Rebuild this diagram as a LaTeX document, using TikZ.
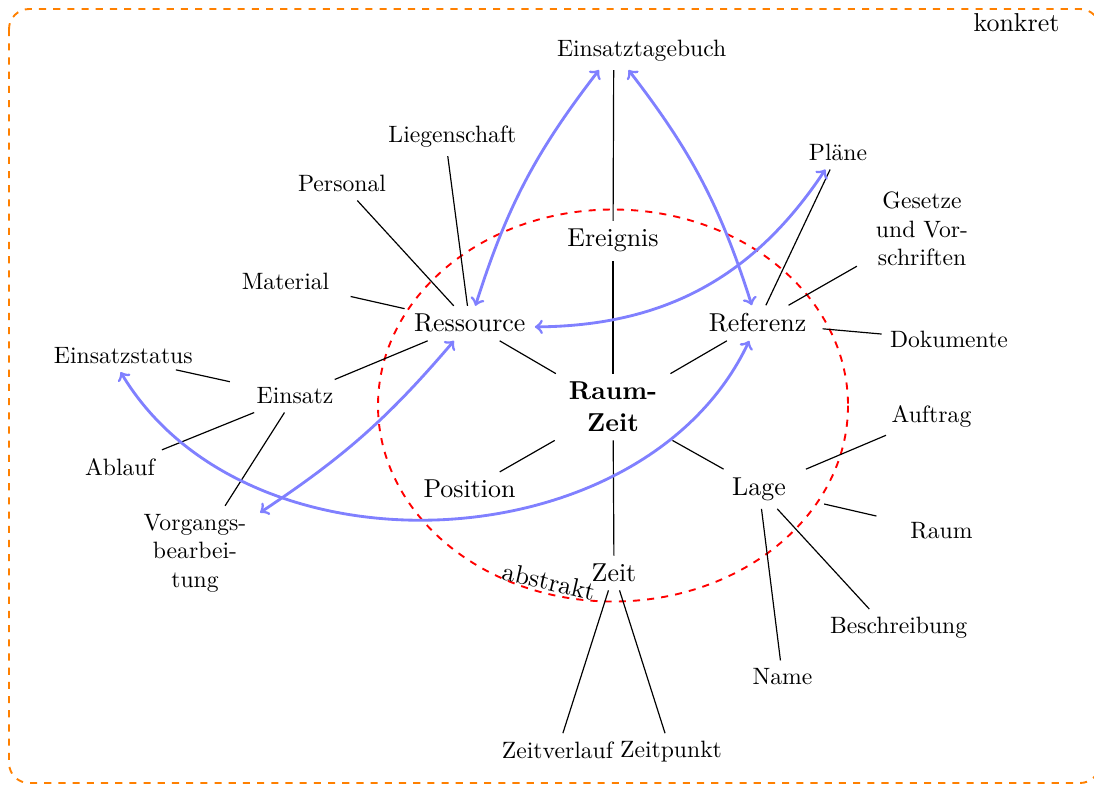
\documentclass[tikz,border=0pt]{standalone}
\begin{document}
\begin{tikzpicture}[
  x=0.42283pt, y=-0.42283pt,
  concept/.style={text width=48pt, align=center,
    font=\fontsize{10.95pt}{13.6pt}\selectfont},
  root/.style={concept, font=\fontsize{10.95pt}{13.6pt}\selectfont\bfseries},
  leaf/.style={text width=48pt, align=center,
    font=\fontsize{10pt}{12pt}\selectfont},
  tie/.style={line width=0.5pt},
  relation/.style={<->, draw=blue!50, very thick},
  region label/.style={font=\fontsize{10.95pt}{13.6pt}\selectfont, inner sep=0pt},
]
\useasboundingbox (0,0) rectangle (1094,784);

% outer frame: the concrete level
\draw[orange, thick, dashed, rounded corners=8.5pt] (9,9) rectangle (1100,783);
\node[region label, anchor=base] (konkret) at (1016.5,31.5) {konkret};

% inner ellipse: the abstract level
\draw[red, thick, dashed] (613,405.5) ellipse [x radius=235, y radius=196];
\node[region label, anchor=base, rotate=-13] (abstrakt) at (547,590) {abstrakt};

% centre and first level
\node[root] (rz) at (613,407) {Raum-\\Zeit};
\node[concept] (ereignis) at (613,240.7) {Ereignis};
\node[concept] (ressource) at (469.75,323.3) {\hbox{Ressource}};
\node[concept] (referenz) at (757.5,323) {Referenz};
\node[concept] (position) at (469.5,489.2) {Position};
\node[concept] (lage) at (759,489) {Lage};
\node[concept] (zeit) at (614,573) {Zeit};

% second level
\node[leaf] (tagebuch) at (613.75,51) {\hbox{Einsatztagebuch}};
\node[leaf] (liegenschaft) at (445.25,137) {\hbox{Liegenschaft}};
\node[leaf] (personal) at (342,183.8) {Personal};
\node[leaf] (material) at (285.5,281.8) {Material};
\node[leaf] (einsatz) at (295,396) {Einsatz};
\node[leaf] (einsatzstatus) at (110.75,355.5) {\hbox{Einsatzstatus}};
\node[leaf] (ablauf) at (120,466.8) {Ablauf};
\node[leaf] (vorgang) at (195,553) {Vorgangs-\\bearbei-\\tung};
\node[leaf] (plaene) at (838,152.8) {Pläne};
\node[leaf] (gesetze) at (922,229) {Gesetze\\und Vor-\\schriften};
\node[leaf] (dokumente) at (946.75,339.8) {\hbox{Dokumente}};
\node[leaf] (auftrag) at (931.5,416) {Auftrag};
\node[leaf] (raum) at (941.5,531) {Raum};
\node[leaf] (beschreibung) at (886.75,628) {\hbox{Beschreibung}};
\node[leaf] (name) at (782.5,677) {Name};
\node[leaf] (zeitverlauf) at (557.5,750) {Zeitverlauf};
\node[leaf] (zeitpunkt) at (671,752) {Zeitpunkt};

% tree connections
\draw[tie] (rz) edge (ereignis) edge (ressource) edge (referenz)
               edge (position) edge (lage) edge (zeit);
\draw[tie] (ereignis) -- (tagebuch);
\draw[tie] (ressource) edge (liegenschaft) edge (personal)
                       edge (material) edge (einsatz);
\draw[tie] (einsatz) edge (einsatzstatus) edge (ablauf) edge (vorgang);
\draw[tie] (referenz) edge (plaene) edge (gesetze) edge (dokumente);
\draw[tie] (lage) edge (auftrag) edge (raum) edge (beschreibung) edge (name);
\draw[tie] (zeit) edge (zeitverlauf) edge (zeitpunkt);

% cross relations
\draw[relation] (ressource) to[bend left=10] (tagebuch);
\draw[relation] (tagebuch) to[bend left=10] (referenz);
\draw[relation] (ressource) to[bend right=28] (plaene);
\draw[relation] (einsatzstatus) to[bend right=62] (referenz);
\draw[relation] (ressource) to[bend left=8] (vorgang);
\end{tikzpicture}
\end{document}
